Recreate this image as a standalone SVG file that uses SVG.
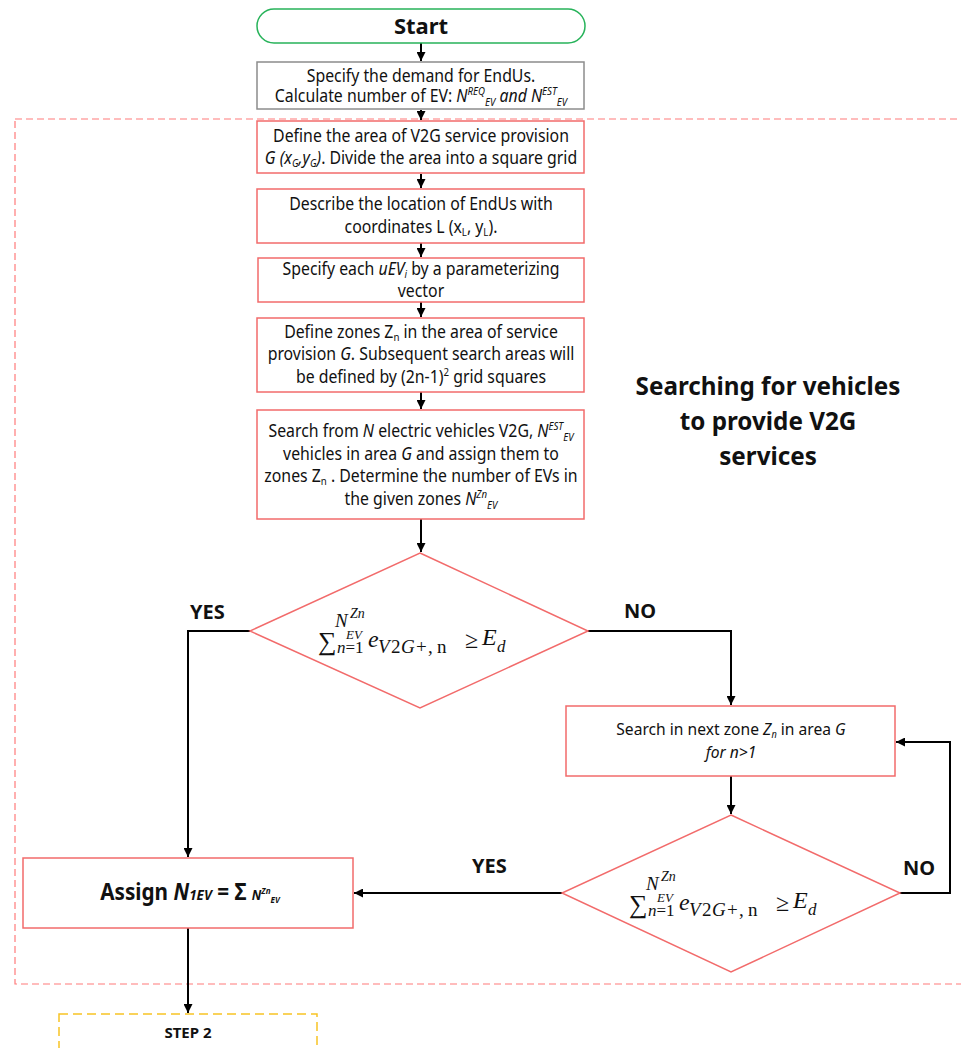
<svg xmlns="http://www.w3.org/2000/svg" width="961" height="1048" viewBox="0 0 961 1048">
<defs>
<style>
.t{font-family:"Noto Sans","Liberation Sans",sans-serif;fill:#111;text-anchor:middle}
.b{font-weight:bold}
.i{font-style:italic}
.box{fill:#fff;stroke:#f26b6b;stroke-width:1.5}
.con{fill:none;stroke:#000;stroke-width:2}
.m{font-family:"Liberation Serif","DejaVu Serif",serif;fill:#111}
.mi{font-style:italic}
.lbl{font-family:"Noto Sans","Liberation Sans",sans-serif;font-weight:bold;fill:#111}
</style>
<marker id="ah" viewBox="0 0 10 10" refX="10" refY="5" markerWidth="9" markerHeight="9" markerUnits="userSpaceOnUse" orient="auto">
<path d="M0,0 L10,5 L0,10 z" fill="#000"/>
</marker>
<g id="formula">
<text class="m" x="318" y="650" font-size="26">∑</text>
<text class="m mi" x="335" y="627" font-size="19">N</text>
<text class="m mi" x="350" y="618" font-size="14">Zn</text>
<text class="m mi" x="346" y="639" font-size="13">EV</text>
<text class="m" x="337" y="653" font-size="17"><tspan class="mi">n</tspan>=1</text>
<text class="m mi" x="368" y="647" font-size="24">e</text>
<text class="m mi" x="378" y="653" font-size="19">V</text>
<text class="m" x="391" y="653" font-size="19">2</text>
<text class="m mi" x="401" y="653" font-size="19">G</text>
<text class="m" x="416" y="653" font-size="19">+</text>
<text class="m" x="428" y="653" font-size="19">,</text>
<text class="m" x="437" y="653" font-size="19">n</text>
<text class="m" x="465" y="648" font-size="24">≥</text>
<text class="m mi" x="482" y="645" font-size="24">E</text>
<text class="m mi" x="497" y="652" font-size="17">d</text>
</g>
</defs>
<rect width="961" height="1048" fill="#fff"/>

<rect id="region" x="15" y="119" width="960" height="865" fill="none" stroke="#ff7b7b" stroke-width="1.2" stroke-dasharray="7 4"/>
<rect id="step2box" x="59" y="1014" width="258" height="40" fill="none" stroke="#f7c325" stroke-width="1.5" stroke-dasharray="9 5"/>

<g id="connectors">
<path class="con" d="M421,43 V61" marker-end="url(#ah)"/>
<path class="con" d="M421,110 V120" marker-end="url(#ah)"/>
<path class="con" d="M421,174 V188" marker-end="url(#ah)"/>
<path class="con" d="M421,243 V257" marker-end="url(#ah)"/>
<path class="con" d="M421,302 V317" marker-end="url(#ah)"/>
<path class="con" d="M421,392 V409" marker-end="url(#ah)"/>
<path class="con" d="M421,519 V552" marker-end="url(#ah)"/>
<path class="con" d="M250,631 H188 V857" marker-end="url(#ah)"/>
<path class="con" d="M588,631 H731 V705" marker-end="url(#ah)"/>
<path class="con" d="M731,776 V814" marker-end="url(#ah)"/>
<path class="con" d="M900,893 H950 V742 H896" marker-end="url(#ah)"/>
<path class="con" d="M562,893 H354" marker-end="url(#ah)"/>
<path class="con" d="M188,928 V1013" marker-end="url(#ah)"/>
</g>

<g id="start">
<rect x="257" y="9" width="328" height="34" rx="17" fill="#fff" stroke="#27b35a" stroke-width="1.5"/>
<text class="t b" x="421" y="34" font-size="22">Start</text>
</g>

<g id="demand">
<rect x="257" y="62" width="327" height="47" fill="#fff" stroke="#8c8c8c" stroke-width="1.5"/>
<g transform="translate(421 0) scale(0.88 1)">
<text class="t" x="0" y="82" font-size="18">Specify the demand for EndUs.</text>
<text class="t" x="0" y="102" font-size="18">Calculate number of EV:  <tspan class="i">N</tspan><tspan class="i" font-size="11" dy="-7">REQ</tspan><tspan class="i" font-size="11" dy="11">EV</tspan><tspan class="i" dy="-4"> and N</tspan><tspan class="i" font-size="11" dy="-7">EST</tspan><tspan class="i" font-size="11" dy="11">EV</tspan></text>
</g>
</g>

<g id="area">
<rect class="box" x="257" y="121" width="327" height="52"/>
<g transform="translate(421 0) scale(0.88 1)">
<text class="t" x="0" y="142" font-size="18">Define the area of V2G service provision</text>
<text class="t" x="0" y="164" font-size="18"><tspan class="i">G (x</tspan><tspan class="i" font-size="11" dy="3">G</tspan><tspan class="i" dy="-3">,y</tspan><tspan class="i" font-size="11" dy="3">G</tspan><tspan class="i" dy="-3">)</tspan>. Divide the area into a square grid</text>
</g>
</g>

<g id="location">
<rect class="box" x="257" y="189" width="327" height="54"/>
<g transform="translate(421 0) scale(0.88 1)">
<text class="t" x="0" y="210" font-size="18">Describe the location of EndUs with</text>
<text class="t" x="0" y="233" font-size="18">coordinates L (x<tspan font-size="11" dy="3">L</tspan><tspan dy="-3">, y</tspan><tspan font-size="11" dy="3">L</tspan><tspan dy="-3">).</tspan></text>
</g>
</g>

<g id="specify">
<rect class="box" x="258" y="258" width="326" height="44"/>
<g transform="translate(421 0) scale(0.88 1)">
<text class="t" x="0" y="275" font-size="18">Specify each <tspan class="i">uEV</tspan><tspan class="i" font-size="11" dy="3">i</tspan><tspan dy="-3"> by a parameterizing</tspan></text>
<text class="t" x="0" y="297" font-size="18">vector</text>
</g>
</g>

<g id="zones">
<rect class="box" x="257" y="318" width="327" height="74"/>
<g transform="translate(421 0) scale(0.88 1)">
<text class="t" x="0" y="338" font-size="18">Define zones Z<tspan font-size="11" dy="3">n</tspan><tspan dy="-3"> in the area of service</tspan></text>
<text class="t" x="0" y="360" font-size="18">provision <tspan class="i">G</tspan>. Subsequent search areas will</text>
<text class="t" x="0" y="383" font-size="18">be defined by (2n-1)<tspan font-size="11" dy="-7">2</tspan><tspan dy="7"> grid squares</tspan></text>
</g>
</g>

<g id="search">
<rect class="box" x="257" y="410" width="327" height="109"/>
<g transform="translate(421 0) scale(0.88 1)">
<text class="t" x="0" y="437" font-size="18">Search from <tspan class="i">N</tspan> electric vehicles V2G, <tspan class="i">N</tspan><tspan class="i" font-size="11" dy="-7">EST</tspan><tspan class="i" font-size="11" dy="11">EV</tspan></text>
<text class="t" x="0" y="460" font-size="18">vehicles in area <tspan class="i">G</tspan> and assign them to</text>
<text class="t" x="0" y="482" font-size="18">zones Z<tspan font-size="11" dy="3">n</tspan><tspan dy="-3"> . Determine the number of EVs in</tspan></text>
<text class="t" x="0" y="505" font-size="18">the given zones <tspan class="i">N</tspan><tspan class="i" font-size="11" dy="-7">Zn</tspan><tspan class="i" font-size="11" dy="11">EV</tspan></text>
</g>
</g>

<g id="decision1">
<polygon points="420,553 588,631 420,708 250,631" fill="#fff" stroke="#f26b6b" stroke-width="1.5"/>
<use href="#formula"/>
</g>

<g id="nextzone">
<rect class="box" x="566" y="706" width="329" height="70"/>
<g transform="translate(731 0) scale(0.92 1)">
<text class="t" x="0" y="735" font-size="17">Search in next zone <tspan class="i">Z</tspan><tspan class="i" font-size="10" dy="3">n</tspan><tspan dy="-3"> in area </tspan><tspan class="i">G</tspan></text>
<text class="t i" x="0" y="758" font-size="17">for n&gt;1</text>
</g>
</g>

<g id="decision2">
<polygon points="731,815 900,893 731,972 562,893" fill="#fff" stroke="#f26b6b" stroke-width="1.5"/>
<use href="#formula" transform="translate(311 263)"/>
</g>

<g id="assign">
<rect class="box" x="23" y="858" width="330" height="70"/>
<g transform="translate(190 0) scale(0.9 1)">
<text class="t b" x="0" y="900" font-size="23">Assign  <tspan class="i">N</tspan><tspan class="i" font-size="15">1EV</tspan> = Σ <tspan class="i" font-size="14">N</tspan><tspan class="i" font-size="9" dy="-6">Zn</tspan><tspan class="i" font-size="9" dy="9">EV</tspan></text>
</g>
</g>

<g id="step2">
<text class="t b" x="188" y="1038" font-size="15">STEP 2</text>
</g>

<g id="title">
<g transform="translate(768 0) scale(0.97 1)">
<text class="t b" x="0" y="395" font-size="25">Searching for vehicles</text>
<text class="t b" x="0" y="430" font-size="25">to provide V2G</text>
<text class="t b" x="0" y="465" font-size="25">services</text>
</g>
</g>

<g id="labels">
<text class="lbl" x="190" y="619" font-size="20">YES</text>
<text class="lbl" x="624" y="618" font-size="20">NO</text>
<text class="lbl" x="472" y="873" font-size="20">YES</text>
<text class="lbl" x="903" y="875" font-size="20">NO</text>
</g>
</svg>
